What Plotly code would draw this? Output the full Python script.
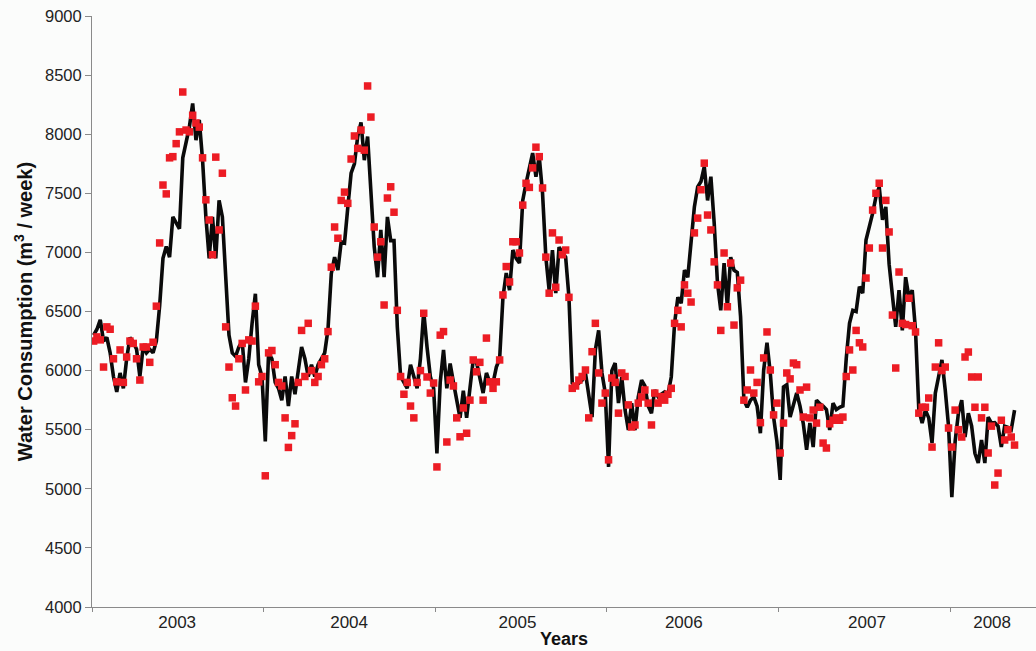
import plotly.graph_objects as go

# Weekly water consumption, Jan 2003 - May 2008 (week index 0 = first week of 2003)
model_2003 = [6300, 6350, 6430, 6250, 6280, 6150, 5950, 5820, 5980, 5850, 6100, 6280, 6240,
              6180, 5950, 6200, 6150, 6180, 6150, 6250, 6550, 6950, 7050, 6960, 7300, 7250,
              7200, 7800, 7950, 8060, 8260, 7950, 8120, 7780, 7300, 6950, 7300, 6950, 7440,
              7300, 6800, 6300, 6150, 6120, 6200, 6250, 5900, 6100, 6400, 6650, 6050, 5950]
model_2004 = [5400, 6150, 6100, 5900, 5850, 5750, 5950, 5700, 5950, 5800, 6000, 6200, 6100,
              5950, 6050, 5950, 6050, 6100, 6150, 6350, 6820, 6960, 6850, 7090, 7080, 7380,
              7670, 7750, 7980, 8100, 7780, 7980, 7550, 7050, 6790, 7190, 6790, 7300, 7100,
              7100, 6370, 5950, 5900, 5850, 6050, 5950, 5850, 6100, 6500, 6200, 5950, 5850]
model_2005 = [5300, 5900, 6175, 5850, 6060, 5900, 5750, 5600, 5830, 5600, 5850, 6090, 6070,
              5950, 5810, 5980, 5900, 5895, 6030, 6100, 6620, 6825, 6680, 7020, 6950, 6910,
              7440, 7585, 7725, 7840, 7640, 7810, 7500, 6960, 6680, 7020, 6655, 7045, 7000,
              6960, 6620, 5895, 5870, 5900, 5920, 5980, 5800, 5607, 6175, 6340, 5980, 5810]
model_2006 = [5185, 6000, 6064, 5725, 5946, 5666, 5497, 5725, 5497, 5777, 5920, 5870, 5700,
              5640, 5836, 5780, 5800, 5820, 5800, 5946, 6400, 6620, 6570, 6850, 6790, 7130,
              7385, 7555, 7600, 7725, 7440, 7640, 7250, 6740, 6510, 6910, 6540, 6960, 6850,
              6830, 6455, 5750, 5690, 5750, 5780, 5700, 5470, 6005, 6235, 5980, 5607, 5400]
model_2007 = [5075, 5861, 5880, 5607, 5700, 5810, 5700, 5550, 5330, 5556, 5353, 5750, 5720,
              5700, 5670, 5497, 5725, 5670, 5690, 5700, 6100, 6400, 6510, 6500, 6710, 6655,
              7105, 7215, 7330, 7470, 7555, 7275, 7385, 6900, 6600, 6370, 6680, 6340, 6790,
              6620, 6680, 6340, 5666, 5556, 5666, 5600, 5387, 5810, 5950, 6090, 5836, 5530]
model_2008 = [4930, 5400, 5640, 5750, 5438, 5640, 5530, 5300, 5218, 5413, 5218, 5607, 5556,
              5560, 5530, 5353, 5530, 5520, 5500, 5666]

obs_2003 = [6250, 6285, 6260, 6030, 6370, 6350, 6100, 5905, 6175, 5900, 6115, 6250, 6230,
            6100, 5920, 6200, 6200, 6070, 6240, 6545, 7080, 7570, 7495, 7800, 7810, 7920,
            8020, 8357, 8035, 8020, 8160, 8095, 8060, 7800, 7445, 7274, 6980, 7806, 7190,
            7670, 6370, 6030, 5770, 5700, 6100, 6230, 5836, 6260, 6250, 6545, 5905, 5950]
obs_2004 = [5110, 6150, 6170, 6050, 5900, 5870, 5600, 5350, 5450, 5550, 5900, 6340, 5950,
            6400, 6000, 5900, 5950, 6050, 6100, 6330, 6875, 7215, 7120, 7440, 7510, 7415,
            7790, 7985, 7880, 8035, 7865, 8408, 8145, 7215, 6960, 7090, 6555, 7460, 7555,
            7340, 6510, 5950, 5800, 5900, 5700, 5600, 5900, 6000, 6485, 5946, 5810, 5895]
obs_2005 = [5185, 6300, 6330, 5396, 5920, 5870, 5600, 5440, 5684, 5470, 5750, 6090, 5990,
            6070, 5750, 6275, 5905, 5850, 5905, 6090, 6640, 6880, 6750, 7090, 7090, 6995,
            7400, 7585, 7550, 7715, 7890, 7810, 7545, 6960, 6655, 7165, 6705, 7105, 6980,
            7020, 6620, 5850, 5870, 5920, 5950, 6005, 5600, 6160, 6400, 5980, 5725, 5810]
obs_2006 = [5245, 5937, 5900, 5640, 5980, 5950, 5710, 5523, 5540, 5725, 5777, 5836, 5725,
            5540, 5810, 5725, 5780, 5750, 5800, 5850, 6400, 6510, 6370, 6725, 6655, 6580,
            7165, 7290, 7530, 7755, 7316, 7190, 6920, 6725, 6340, 6995, 6540, 6910, 6385,
            6700, 6765, 5750, 5836, 6005, 5810, 5900, 5560, 6107, 6327, 6005, 5625, 5725]
obs_2007 = [5303, 5556, 5980, 5930, 6064, 6050, 5836, 5607, 5860, 5600, 5666, 5556, 5690,
            5387, 5345, 5550, 5580, 5600, 5580, 5607, 5950, 6175, 6005, 6340, 6235, 6200,
            6783, 7037, 7358, 7500, 7585, 7037, 7440, 7173, 6470, 6022, 6834, 6400, 6390,
            6612, 6380, 6327, 5640, 5690, 5690, 5768, 5353, 6030, 6235, 6000, 6030, 5514]
obs_2008 = [5353, 5666, 5500, 5438, 6115, 6157, 5946, 5690, 5946, 5600, 5690, 5303, 5530,
            5032, 5133, 5580, 5413, 5500, 5438, 5370]

year_labels = ["2003", "2004", "2005", "2006", "2007", "2008"]
year_label_weeks = [25.3, 77.4, 128.4, 178.8, 234.3, 272.2]
year_boundaries = [-0.5, 51.5, 103.5, 155.5, 207.5, 259.5]

model = model_2003 + model_2004 + model_2005 + model_2006 + model_2007 + model_2008
observed = obs_2003 + obs_2004 + obs_2005 + obs_2006 + obs_2007 + obs_2008
weeks = list(range(len(model)))

font_family = "Liberation Sans, Arial, sans-serif"

fig = go.Figure()
fig.add_trace(go.Scatter(
    x=weeks, y=model, mode="lines",
    line=dict(color="#0a0a0a", width=3.6),
    showlegend=False, hoverinfo="skip",
))
fig.add_trace(go.Scatter(
    x=weeks[:len(observed)], y=observed, mode="markers",
    marker=dict(symbol="square", size=7.5, color="#ec1c24", line=dict(width=0)),
    showlegend=False,
))

fig.update_layout(
    width=1036, height=651,
    margin=dict(l=92, r=0, t=16, b=44),
    paper_bgcolor="#fbfcfb", plot_bgcolor="#fbfcfb",
    font=dict(family=font_family, size=16, color="#222222"),
)
fig.update_xaxes(
    range=[-0.5, 285.5],
    tickmode="array", tickvals=year_label_weeks, ticktext=year_labels,
    ticks="", showgrid=False, zeroline=False,
    showline=True, linecolor="#8a8a8a", linewidth=1,
    tickfont=dict(size=17, color="#222222"),
    minor=dict(tickmode="array", tickvals=year_boundaries, ticks="outside",
               ticklen=4, tickcolor="#8a8a8a", showgrid=False),
    title=dict(text="<b>Years</b>", font=dict(size=18, color="#111111"), standoff=0),
)
fig.update_yaxes(
    range=[4000, 9000], tickmode="array",
    tickvals=[4000, 4500, 5000, 5500, 6000, 6500, 7000, 7500, 8000, 8500, 9000],
    ticks="outside", ticklen=6, tickcolor="#8a8a8a",
    showgrid=False, zeroline=False,
    showline=True, linecolor="#8a8a8a", linewidth=1,
    tickfont=dict(size=16.5, color="#222222"),
    title=dict(text="<b>Water Consumption (m<sup>3</sup> / week)</b>",
               font=dict(size=20, color="#111111"), standoff=6),
)

fig.write_html("out.html")
